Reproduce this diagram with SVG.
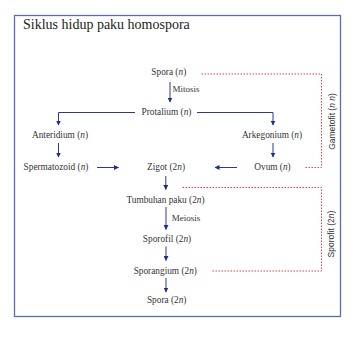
<svg xmlns="http://www.w3.org/2000/svg" width="355" height="337" viewBox="0 0 355 337">
<defs>
<marker id="ah" markerWidth="5" markerHeight="5" refX="4.5" refY="2.5" orient="auto" markerUnits="userSpaceOnUse">
<path d="M0,0 L5,2.5 L0,5 Z" fill="#1f2d8a"/>
</marker>
<style>
.t{font-family:"Liberation Serif","Times New Roman",serif;font-size:9.3px;fill:#333;text-anchor:middle}
.l{font-family:"Liberation Serif","Times New Roman",serif;font-size:9px;fill:#333}
.s{font-family:"Liberation Sans",Arial,sans-serif;font-size:8.5px;fill:#333;text-anchor:middle}
.a{stroke:#2a3a93;stroke-width:1;fill:none;marker-end:url(#ah)}
.r{stroke:#e0404a;stroke-width:1;fill:none;stroke-dasharray:1.5 1.5}
i{font-style:italic}
</style>
</defs>
<rect width="355" height="337" fill="#fff"/>
<rect x="14.5" y="15.5" width="326" height="301" fill="none" stroke="#5a6db0" stroke-width="1.3"/>
<text x="23" y="29" style="font-family:'Liberation Serif','Times New Roman',serif;font-size:14px;fill:#222">Siklus hidup paku homospora</text>
<g id="connectors">
<path class="a" d="M170,82 V102"/>
<path class="a" d="M135,112.5 H58.5 V125"/>
<path class="a" d="M197,112.5 H273 V125"/>
<path class="a" d="M58.5,143 V157"/>
<path class="a" d="M273,143 V157"/>
<path class="a" d="M97,167.5 H118.5"/>
<path class="a" d="M237,167.5 H215"/>
<path class="a" d="M165.8,176 V189.5"/>
<path class="a" d="M166,207 V229.5"/>
<path class="a" d="M166,246.5 V260.5"/>
<path class="a" d="M166,278 V292"/>
<path class="r" d="M201.5,74 H321.5 V167.5 H305"/>
<path class="r" d="M182.5,187.5 H321.5 V271 H212.5"/>
</g>
<g id="spora-n"><text class="t" x="168.8" y="75">Spora (<tspan font-style="italic">n</tspan>)</text></g>
<g id="mitosis"><text class="l" x="172.5" y="91.5">Mitosis</text></g>
<g id="protalium"><text class="t" x="166.5" y="114.5">Protalium (<tspan font-style="italic">n</tspan>)</text></g>
<g id="anteridium"><text class="t" x="60" y="138">Anteridium (<tspan font-style="italic">n</tspan>)</text></g>
<g id="arkegonium"><text class="t" x="272" y="138">Arkegonium (<tspan font-style="italic">n</tspan>)</text></g>
<g id="spermatozoid"><text class="t" x="56" y="169.5">Spermatozoid (<tspan font-style="italic">n</tspan>)</text></g>
<g id="zigot"><text class="t" x="166" y="169.5">Zigot (2<tspan font-style="italic">n</tspan>)</text></g>
<g id="ovum"><text class="t" x="272.5" y="169.5">Ovum (<tspan font-style="italic">n</tspan>)</text></g>
<g id="tumbuhan"><text class="t" x="165.5" y="202.5">Tumbuhan paku (2<tspan font-style="italic">n</tspan>)</text></g>
<g id="meiosis"><text class="l" x="171.7" y="221">Meiosis</text></g>
<g id="sporofil"><text class="t" x="167" y="241.7">Sporofil (2<tspan font-style="italic">n</tspan>)</text></g>
<g id="sporangium"><text class="t" x="165.3" y="273.5">Sporangium (2<tspan font-style="italic">n</tspan>)</text></g>
<g id="spora-2n"><text class="t" x="166.7" y="302.7">Spora (2<tspan font-style="italic">n</tspan>)</text></g>
<g id="gametofit"><text class="s" transform="translate(334.5,121.5) rotate(-90)">Gametofit (<tspan font-style="italic">n n</tspan>)</text></g>
<g id="sporofit"><text class="s" transform="translate(334,234) rotate(-90)">Sporofit (2<tspan font-style="italic">n</tspan>)</text></g>
</svg>
